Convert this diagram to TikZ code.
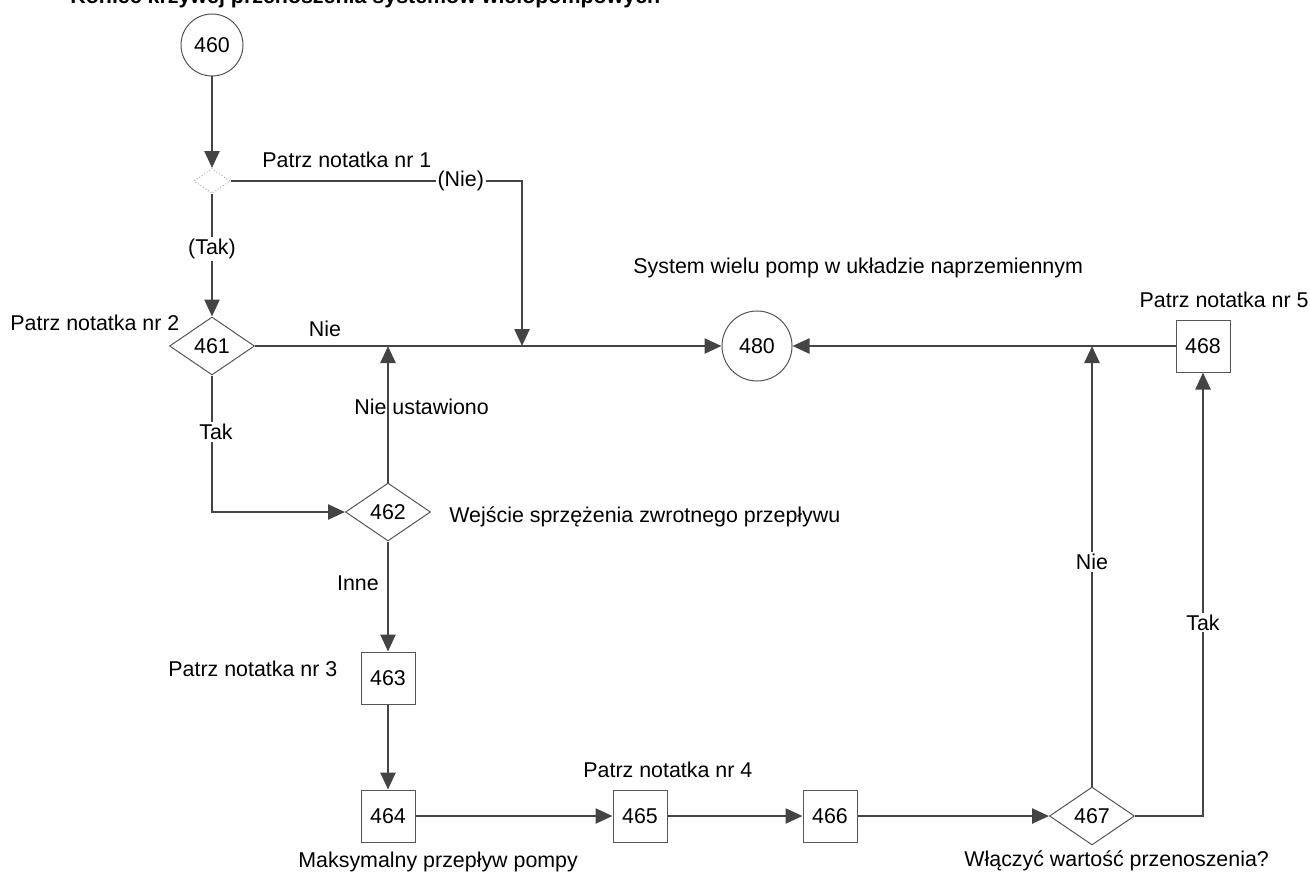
\documentclass[tikz,border=0pt]{standalone}
\usepackage{fontspec}
\setmainfont{Liberation Sans}
\usetikzlibrary{arrows.meta,shapes.geometric}
\definecolor{lc}{HTML}{444444}
\definecolor{bc}{HTML}{555555}
\begin{document}
\begin{tikzpicture}[x=0.5pt,y=-0.5pt,
  font=\fontsize{10.7}{12.5}\selectfont,
  conn/.style={draw=lc, line width=1.25pt, -{Triangle[length=8.5pt,width=7.5pt]}},
  circ/.style={circle, draw=bc, line width=0.5pt, inner sep=0pt},
  dia/.style={diamond, draw=bc, line width=0.5pt, inner sep=0pt, minimum width=42.5pt, minimum height=29pt},
  dia0/.style={diamond, draw=gray!60, densely dotted, line width=0.5pt, inner sep=0pt, minimum width=18pt, minimum height=12.5pt},
  box/.style={rectangle, draw=bc, line width=0.5pt, inner sep=0pt, minimum width=27pt, minimum height=26pt},
  lbl/.style={inner sep=0pt},
  wlbl/.style={fill=white, inner sep=1pt}]
\useasboundingbox (0,0) rectangle (1310,872);
\clip (0,0) rectangle (1310,872);

% title (cut at top)
\node[anchor=base west, inner sep=0pt, font=\fontsize{10.7}{12.5}\selectfont\bfseries] (title) at (70,4) {Koniec krzywej przenoszenia systemów wielopompowych};

% nodes
\node[circ, minimum size=31pt] (n460) at (212,45) {460};
\node[dia0] (d0) at (212,181) {};
\node[dia] (n461) at (212,346) {461};
\node[circ, minimum size=35pt] (n480) at (757,346) {480};
\node[dia] (n462) at (388,512) {462};
\node[box] (n463) at (388,678) {463};
\node[box] (n464) at (388,816) {464};
\node[box] (n465) at (640,816) {465};
\node[box] (n466) at (830,816) {466};
\node[dia] (n467) at (1092,816) {467};
\node[box] (n468) at (1203,346) {468};

\coordinate (c1) at (522,181);
\coordinate (c2) at (522,346);
\coordinate (c3) at (388,346);
\coordinate (c4) at (1092,346);

% labels
\node[lbl, anchor=west] (t1) at (262,160) {Patrz notatka nr 1};
\node[lbl, anchor=west] (t2) at (10,323) {Patrz notatka nr 2};
\node[lbl, anchor=west] (t3) at (168,669) {Patrz notatka nr 3};
\node[lbl, anchor=west] (t4) at (583,770) {Patrz notatka nr 4};
\node[lbl, anchor=east] (t5) at (1309,300) {Patrz notatka nr 5};
\node[lbl, anchor=west] (tsys) at (633,268) {System wielu pomp w układzie naprzemiennym};
\node[lbl, anchor=west] (twej) at (449,517) {Wejście sprzężenia zwrotnego przepływu};
\node[lbl, anchor=west] (tmax) at (298,862) {Maksymalny przepływ pompy};
\node[lbl, anchor=west] (twl) at (964,861) {Włączyć wartość przenoszenia?};
\node[lbl, anchor=west] (tnu) at (354,407) {Nie ustawiono};

% connectors
\draw[conn] (n460) -- (d0);
\draw[conn] (d0.east) -- node[wlbl, pos=0.79] {(Nie)} (c1) -- (c2);
\draw[conn] (d0.south) -- node[wlbl, pos=0.45] {(Tak)} (n461.north);
\draw[conn] (n461.east) -- node[lbl, pos=0.15, above=4pt] {Nie} (n480.west);
\draw[conn] (n461.south) |- node[wlbl, pos=0.206, xshift=2pt] {Tak} (n462.west);
\draw[conn] (n462.north) -- (c3);
\draw[conn] (n462.south) -- node[lbl, pos=0.38, left=4pt] {Inne} (n463.north);
\draw[conn] (n463.south) -- (n464.north);
\draw[conn] (n464.east) -- (n465.west);
\draw[conn] (n465.east) -- (n466.west);
\draw[conn] (n466.east) -- (n467.west);
\draw[conn] (n467.north) -- node[wlbl, pos=0.51] {Nie} (c4);
\draw[conn] (n467.east) -| node[wlbl, pos=0.718] {Tak} (n468.south);
\draw[conn] (n468.west) -- (n480.east);
\end{tikzpicture}
\end{document}
